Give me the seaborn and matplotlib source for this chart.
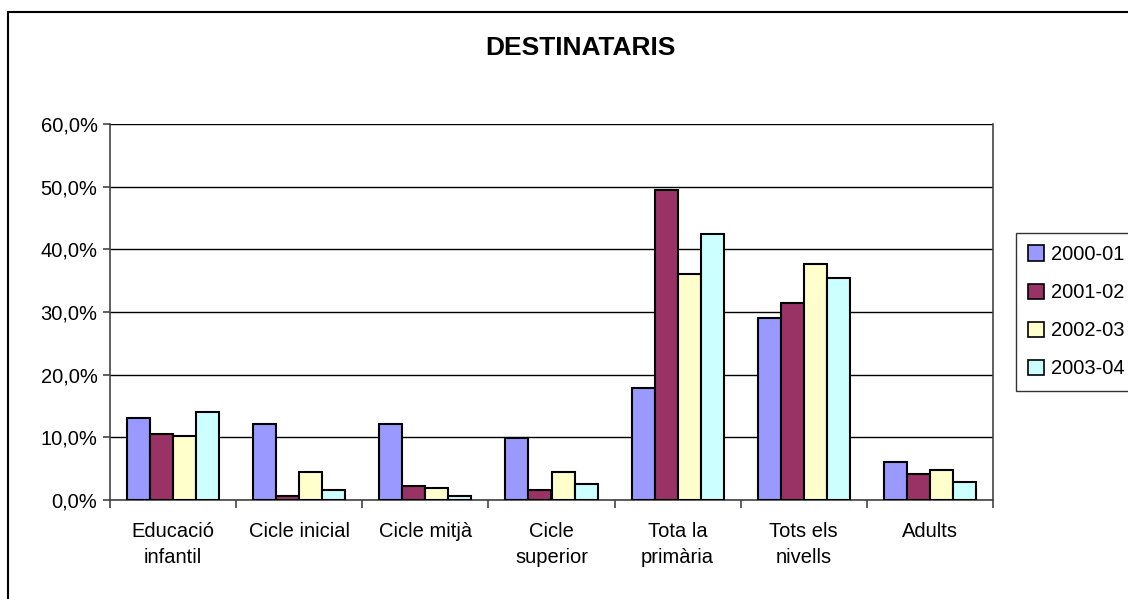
import matplotlib
matplotlib.use("Agg")
import matplotlib.pyplot as plt
import matplotlib.patches as mpatches
from matplotlib.ticker import FuncFormatter, MultipleLocator
import numpy as np
import pandas as pd
import seaborn as sns

# values (percent)
categories = ["Educació\ninfantil", "Cicle inicial", "Cicle mitjà", "Cicle\nsuperior",
              "Tota la\nprimària", "Tots els\nnivells", "Adults"]
years = ["2000-01", "2001-02", "2002-03", "2003-04"]
v2000 = [13.1, 12.1, 12.1, 9.9, 17.8, 29.0, 6.0]
v2001 = [10.5, 0.7, 2.2, 1.6, 49.5, 31.5, 4.1]
v2002 = [10.2, 4.4, 1.9, 4.4, 36.0, 37.6, 4.8]
v2003 = [14.0, 1.6, 0.6, 2.5, 42.5, 35.4, 2.8]
colors = ["#9999FF", "#993366", "#FFFFCC", "#CCFFFF"]

rows = []
for year, vals in zip(years, [v2000, v2001, v2002, v2003]):
    for cat, v in zip(categories, vals):
        rows.append({"cat": cat, "year": year, "val": v / 100})
df = pd.DataFrame(rows)

sns.set_style("white")
plt.rcParams['font.family'] = ['Liberation Sans', 'DejaVu Sans']
plt.rcParams['text.color'] = 'black'
plt.rcParams['xtick.color'] = 'black'
plt.rcParams['ytick.color'] = 'black'

fig = plt.figure(figsize=(11.28, 5.99), dpi=100)
ax = fig.add_axes([110/1128, 1-500/599, (993-110)/1128, (500-124)/599])

sns.barplot(data=df, x="cat", y="val", hue="year", order=categories, hue_order=years,
            palette=colors, width=0.73, edgecolor="black", linewidth=1.5,
            saturation=1, errorbar=None, ax=ax, zorder=3)

ax.set_ylim(0, 0.6)
ax.set_xlim(-0.5, 6.5)
ax.yaxis.set_major_locator(MultipleLocator(0.1))
ax.yaxis.set_major_formatter(FuncFormatter(lambda v, p: f"{v*100:.1f}%".replace(".", ",")))
ax.grid(axis="y", color="black", linewidth=1, zorder=0)
ax.set_axisbelow(True)
ax.set_xlabel("")
ax.set_ylabel("")

for s in ["left", "bottom", "right"]:
    ax.spines[s].set_visible(True)
    ax.spines[s].set_color("#444444")
    ax.spines[s].set_linewidth(1.2)
ax.spines["top"].set_visible(False)

ax.set_xticks(np.arange(-0.5, 7, 1), minor=True)
ax.tick_params(axis="x", which="major", length=0, labelsize=14.5, pad=16)
ax.tick_params(axis="x", which="minor", length=6, width=1.2, color="#444444", direction="out", bottom=True)
ax.tick_params(axis="y", length=5, width=1.2, color="#444444", direction="out", left=True, labelsize=14.5, pad=4)
for lab in ax.get_xticklabels():
    lab.set_linespacing(1.45)
    lab.set_color("black")

ax.legend_.remove()
handles = [mpatches.Patch(facecolor=c, edgecolor="black", linewidth=1.2) for c in colors]
leg = fig.legend(handles, years, loc="upper left", bbox_to_anchor=(1016/1128, 1-233/599),
                 frameon=True, fancybox=False, fontsize=14.5, handlelength=0.8, handleheight=0.8,
                 handletextpad=0.35, labelspacing=0.95, borderpad=0.6, borderaxespad=0)
leg.get_frame().set_edgecolor("black")
leg.get_frame().set_linewidth(1)

fig.text(580/1128, 1-48/599, "DESTINATARIS", ha="center", va="center",
         fontsize=19, fontweight="bold", color="black")

fig.patches.append(mpatches.Rectangle((8/1128, -0.1), 2, 1-12/599+0.1, fill=False,
                                      edgecolor="black", linewidth=1.5,
                                      transform=fig.transFigure, figure=fig))

fig.savefig("out.png", dpi=100)
